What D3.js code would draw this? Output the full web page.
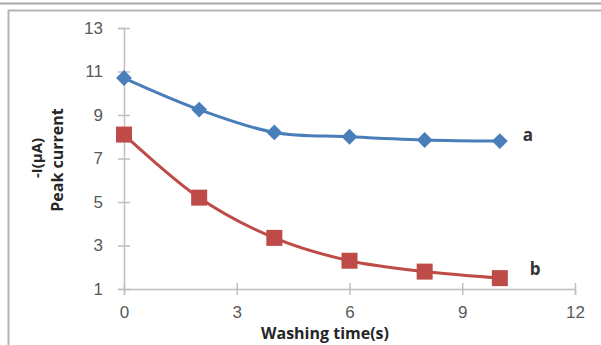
<!DOCTYPE html>
<html>
<head>
<meta charset="utf-8">
<script src="https://cdn.jsdelivr.net/npm/d3@7"></script>
<style>
  body { margin: 0; background: #fff; }
  svg { display: block; font-family: "Open Sans", "Noto Sans", sans-serif; }
</style>
</head>
<body>
<div id="chart"></div>
<script>
// washing time (s)
const times = [0, 2, 4, 6, 8, 10];
const seriesA = [10.7, 9.25, 8.2, 8.0, 7.85, 7.8];
const seriesB = [8.1, 5.2, 3.35, 2.3, 1.8, 1.5];
const xTicks = [0, 3, 6, 9, 12];
const yTicks = [1, 3, 5, 7, 9, 11, 13];

const width = 601, height = 345;
const svg = d3.select('#chart').append('svg')
  .attr('width', width).attr('height', height);

// outer frames
svg.append('line').attr('x1', 0).attr('x2', width).attr('y1', 3.5).attr('y2', 3.5)
  .attr('stroke', '#a8a8a8').attr('stroke-width', 2);
svg.append('path').attr('d', `M8.5,${height}V10.5H${width}`)
  .attr('fill', 'none').attr('stroke', '#b4b4b4').attr('stroke-width', 2);

const x = d3.scaleLinear().domain([0, 12]).range([124, 575]);
const y = d3.scaleLinear().domain([1, 13]).range([289, 28]);

const axisColor = '#bfbfbf';
const tickText = '#595959';

// y axis
const yAxis = svg.append('g').attr('transform', `translate(${x(0)},0)`)
  .call(d3.axisLeft(y).tickValues(yTicks).tickSize(6).tickPadding(15));
// x axis
const xAxis = svg.append('g').attr('transform', `translate(0,${y(1)})`)
  .call(d3.axisBottom(x).tickValues(xTicks).tickSize(6).tickPadding(11));

[xAxis, yAxis].forEach(g => {
  g.select('.domain').attr('stroke', axisColor).attr('stroke-width', 1.5);
  g.selectAll('.tick line').attr('stroke', axisColor).attr('stroke-width', 1.5);
  g.selectAll('.tick text').attr('fill', tickText).attr('font-size', 17);
});
// Excel-like: ticks cross the axis
yAxis.selectAll('.tick line').attr('x1', 6).attr('x2', -6);
xAxis.selectAll('.tick line').attr('y1', -6).attr('y2', 6);

const line = d3.line()
  .x((d, i) => x(times[i]))
  .y(d => y(d))
  .curve(d3.curveCatmullRom.alpha(0.5));

// series a: blue diamonds
svg.append('path').datum(seriesA).attr('d', line)
  .attr('fill', 'none').attr('stroke', '#4a7ebb').attr('stroke-width', 3);
svg.append('g').selectAll('path').data(seriesA).join('path')
  .attr('transform', (d, i) => `translate(${x(times[i])},${y(d)})`)
  .attr('d', d3.symbol(d3.symbolDiamond2, 160))
  .attr('fill', '#4a7ebb');

// series b: red squares
svg.append('path').datum(seriesB).attr('d', line)
  .attr('fill', 'none').attr('stroke', '#be4b48').attr('stroke-width', 3);
svg.append('g').selectAll('rect').data(seriesB).join('rect')
  .attr('x', (d, i) => x(times[i]) - 8).attr('y', d => y(d) - 8)
  .attr('width', 16).attr('height', 16)
  .attr('fill', '#be4b48');

// series labels
svg.append('text').attr('x', x(10) + 23).attr('y', y(7.8))
  .attr('font-size', 17).attr('font-weight', 'bold').attr('fill', '#333').text('a');
svg.append('text').attr('x', x(10) + 30).attr('y', y(1.5) - 3)
  .attr('font-size', 17).attr('font-weight', 'bold').attr('fill', '#333').text('b');

// axis titles
svg.append('text').attr('x', 325).attr('y', 339).attr('text-anchor', 'middle')
  .attr('font-size', 16).attr('font-weight', 'bold').attr('fill', '#262626')
  .text('Washing time(s)');
svg.append('text').attr('transform', 'translate(42,158) rotate(-90)')
  .attr('text-anchor', 'middle').attr('font-size', 15).attr('font-weight', 'bold')
  .attr('fill', '#262626').text('-I(μA)');
svg.append('text').attr('transform', 'translate(63,160) rotate(-90)')
  .attr('text-anchor', 'middle').attr('font-size', 16).attr('font-weight', 'bold')
  .attr('fill', '#262626').text('Peak current');
</script>
</body>
</html>
